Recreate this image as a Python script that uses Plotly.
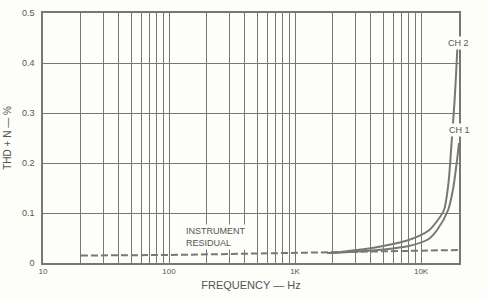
import plotly.graph_objects as go

# Data
resid_f = [20, 50, 100, 300, 1000, 2000, 5000, 10000, 20000]
resid_v = [0.015, 0.0155, 0.016, 0.018, 0.020, 0.022, 0.024, 0.025, 0.026]

ch2_f = [1800, 2300, 5000, 8000, 11500, 13500, 15200, 16500, 17300, 18500, 19500]
ch2_v = [0.020, 0.022, 0.034, 0.046, 0.065, 0.085, 0.106, 0.160, 0.226, 0.330, 0.440]

ch1_f = [1800, 2300, 5000, 8000, 11500, 13400, 16400, 18000, 19300, 20000]
ch1_v = [0.020, 0.021, 0.027, 0.034, 0.048, 0.066, 0.106, 0.150, 0.206, 0.240]

grid_f = [10] + list(range(20, 100, 10)) + list(range(100, 1000, 100)) + \
         list(range(1000, 10000, 1000)) + [10000, 20000]
x_labels = {10: "10", 100: "100", 1000: "1K", 10000: "10K"}
y_ticks = [0, 0.1, 0.2, 0.3, 0.4, 0.5]
y_labels = ["0", "0.1", "0.2", "0.3", "0.4", "0.5"]

LINE = "#777777"
TXT = "#555555"
BG = "#fdfdf9"

fig = go.Figure()
fig.add_trace(go.Scatter(x=resid_f, y=resid_v, mode="lines",
                         line=dict(color=LINE, width=2, dash="7px,3px")))
fig.add_trace(go.Scatter(x=ch1_f, y=ch1_v, mode="lines",
                         line=dict(color=LINE, width=2, shape="spline", smoothing=0.8)))
fig.add_trace(go.Scatter(x=ch2_f, y=ch2_v, mode="lines",
                         line=dict(color=LINE, width=2, shape="spline", smoothing=0.8)))

fig.update_layout(
    width=488, height=300,
    margin=dict(l=43, r=29, t=13, b=37),
    paper_bgcolor=BG, plot_bgcolor=BG,
    showlegend=False,
    font=dict(family="Liberation Sans, Arial, sans-serif", color=TXT, size=9),
    xaxis=dict(type="log", range=[1, 4.301], tickmode="array",
               tickvals=grid_f, ticktext=[x_labels.get(v, "") for v in grid_f],
               showgrid=True, gridcolor=LINE, gridwidth=1.3,
               showline=True, linecolor=LINE, linewidth=1.5, mirror=True,
               ticks="", zeroline=False, tickfont=dict(size=8), automargin=False,
               title=dict(text="FREQUENCY — Hz", font=dict(size=11), standoff=6)),
    yaxis=dict(range=[0, 0.5], tickmode="array", tickvals=y_ticks, ticktext=y_labels,
               showgrid=True, gridcolor=LINE, gridwidth=1.3,
               showline=True, linecolor=LINE, linewidth=1.5, mirror=True,
               ticks="", zeroline=False, tickfont=dict(size=9), ticklabelstandoff=5,
               automargin=False,
               title=dict(text="THD + N — %", font=dict(size=10), standoff=8)),
)

fig.add_annotation(x=2.119, y=0.052, xref="x", yref="y", text="INSTRUMENT<br>RESIDUAL",
                   showarrow=False, xanchor="left", align="left", bgcolor=BG,
                   font=dict(size=9, color=TXT))
fig.add_annotation(x=4.295, y=0.44, xref="x", yref="y", text="CH 2",
                   showarrow=False, xanchor="center", yanchor="middle", bgcolor=BG,
                   font=dict(size=9, color=TXT))
fig.add_annotation(x=4.301, y=0.266, xref="x", yref="y", text="CH 1",
                   showarrow=False, xanchor="center", yanchor="middle", bgcolor=BG,
                   font=dict(size=9, color=TXT))

fig.write_html("out.html")
